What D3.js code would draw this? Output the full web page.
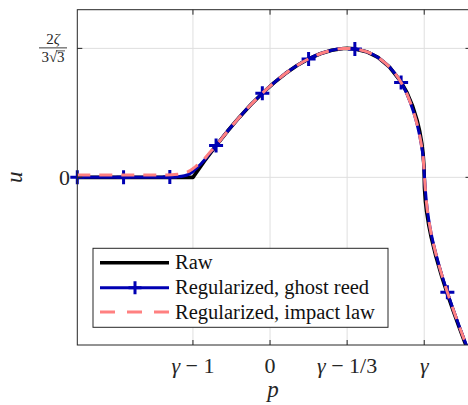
<!DOCTYPE html>
<html><head><meta charset="utf-8">
<script src="https://cdn.jsdelivr.net/npm/d3@7"></script>
<style>
html,body{margin:0;padding:0;background:#fff;}
svg{display:block;}
</style></head>
<body>
<svg id="chart" width="468" height="405" font-family="'Liberation Serif', Tinos, 'Noto Serif', 'DejaVu Serif', serif"></svg>
<script>
// ---- data (u normalised so that 2ζ/(3√3) = 1, γ = 2/3) ----
const rawP = [-0.8333,-0.3333,-0.2833,-0.2333,-0.1833,-0.1333,-0.0833,-0.0333,0.0167,0.0667,0.1167,0.1667,0.2167,0.2667,0.3167,0.3333,0.3667,0.4167,0.4667,0.5167,0.5667,0.5917,0.6167,0.6367,0.6467,0.6567,0.6617,0.6657,0.6667,0.6677,0.6717,0.6767,0.6867,0.6967,0.7167,0.7417,0.7667,0.7917,0.8167,0.8417,0.8667];
const rawU = [0,0,0.1266,0.2465,0.3593,0.4648,0.5625,0.6521,0.7331,0.8050,0.8671,0.9186,0.9585,0.9859,0.9991,1.0,0.9961,0.9743,0.9295,0.8553,0.7394,0.6582,0.5519,0.4365,0.3601,0.2572,0.1829,0.0821,0,-0.0822,-0.1847,-0.2624,-0.3747,-0.4635,-0.6100,-0.7649,-0.9038,-1.0333,-1.1572,-1.2770,-1.3943];

const regP = [-0.8333,-0.6,-0.45,-0.40,-0.37,-0.35,-0.3333,-0.315,-0.30,-0.2833,-0.2667,-0.2333,-0.1833,-0.1333,-0.0833,-0.0333,0.0167,0.0667,0.1167,0.1667,0.2167,0.2667,0.3167,0.3333,0.3667,0.4167,0.4667,0.5167,0.5667,0.5917,0.6167,0.6367,0.6467,0.6567,0.6617,0.6667,0.6717,0.6767,0.6867,0.6967,0.7167,0.7417,0.7667,0.7917,0.8167,0.8417,0.8667];
const ghostU = [0,0,0.001,0.004,0.012,0.025,0.045,0.076,0.102,0.134,0.172,0.2465,0.3593,0.4648,0.5625,0.6521,0.7331,0.8050,0.8671,0.9186,0.9585,0.9859,0.9991,1.0,0.9961,0.9743,0.9295,0.8553,0.735,0.648,0.527,0.405,0.325,0.225,0.16,0.03,-0.10,-0.20,-0.335,-0.435,-0.590,-0.750,-0.890,-1.022,-1.148,-1.268,-1.386];
const impactU = [0.018,0.018,0.019,0.024,0.034,0.048,0.068,0.094,0.116,0.145,0.180,0.2465,0.3593,0.4648,0.5625,0.6521,0.7331,0.8050,0.8671,0.9186,0.9585,0.9859,0.9991,1.0,0.9961,0.9743,0.9295,0.8553,0.735,0.648,0.527,0.405,0.325,0.225,0.16,0.03,-0.10,-0.20,-0.335,-0.435,-0.590,-0.750,-0.890,-1.022,-1.148,-1.268,-1.386];

const markerP = [-0.8333,-0.6333,-0.4333,-0.2333,-0.0333,0.1667,0.3667,0.5667,0.7667];
const markerU = [0,0,0.002,0.2465,0.6521,0.9186,0.9961,0.735,-0.890];

const xTickVals = [-1/3, 0, 1/3, 2/3];
const xTickLabels = [["γ"," − 1"],["","0"],["γ"," − 1/3"],["γ",""]];
const yTickVals = [0, 1];
const legendLabels = ["Raw","Regularized, ghost reed","Regularized, impact law"];

// ---- layout ----
const L = 77.3, R = 470.5, T = 9.7, B = 345;
const svg = d3.select("#chart");
const x = d3.scaleLinear().domain([-0.8333, 0.8667]).range([L, R]);
const y = d3.scaleLinear().domain([-1.3, 1.3]).range([B, T]);
const axisCol = "#262626";

// grid
const g = svg.append("g");
g.selectAll("line.gx").data(xTickVals).join("line")
  .attr("x1", d=>x(d)).attr("x2", d=>x(d)).attr("y1", T).attr("y2", B)
  .attr("stroke", "#dfdfdf").attr("stroke-width", 1);
g.selectAll("line.gy").data(yTickVals).join("line")
  .attr("y1", d=>y(d)).attr("y2", d=>y(d)).attr("x1", L).attr("x2", R)
  .attr("stroke", "#dfdfdf").attr("stroke-width", 1);

// clip
svg.append("clipPath").attr("id","clip").append("rect")
  .attr("x", L).attr("y", T).attr("width", R-L).attr("height", B-T);
const plot = svg.append("g").attr("clip-path","url(#clip)");

const lineLin = d3.line().x(d=>x(d[0])).y(d=>y(d[1]));
const lineSmooth = d3.line().x(d=>x(d[0])).y(d=>y(d[1])).curve(d3.curveMonotoneX);

const rawData = rawP.map((p,i)=>[p, rawU[i]]);
const ghostData = regP.map((p,i)=>[p, ghostU[i]]);
const impactData = regP.map((p,i)=>[p, impactU[i]]);
const markerData = markerP.map((p,i)=>[p, markerU[i]]);

plot.append("path").attr("d", lineLin(rawData)).attr("fill","none")
  .attr("stroke","#000").attr("stroke-width",3.6).attr("stroke-linejoin","round");
plot.append("path").attr("d", lineSmooth(ghostData)).attr("fill","none")
  .attr("stroke","#0000b3").attr("stroke-width",3).attr("stroke-linejoin","round");
const plus = s => `M${-s},0H${s}M0,${-s}V${s}`;
// markers are not clipped (as in the original)
svg.append("g").selectAll("path").data(markerData).join("path")
  .attr("transform", d=>`translate(${x(d[0])},${y(d[1])})`)
  .attr("d", plus(7)).attr("stroke","#0000b3").attr("stroke-width",3).attr("fill","none");
svg.append("g").attr("clip-path","url(#clip)").append("path").attr("d", lineSmooth(impactData)).attr("fill","none")
  .attr("stroke","#ff8080").attr("stroke-width",3).attr("stroke-dasharray","13,9");

// axes box and ticks
const ax = svg.append("g").attr("stroke", axisCol).attr("stroke-width",1).attr("fill","none");
ax.append("rect").attr("x",L).attr("y",T).attr("width",R-L).attr("height",B-T);
xTickVals.forEach(v=>{
  ax.append("line").attr("x1",x(v)).attr("x2",x(v)).attr("y1",B).attr("y2",B-5);
  ax.append("line").attr("x1",x(v)).attr("x2",x(v)).attr("y1",T).attr("y2",T+5);
});
yTickVals.forEach(v=>{
  ax.append("line").attr("x1",L).attr("x2",L+5).attr("y1",y(v)).attr("y2",y(v));
  ax.append("line").attr("x1",R).attr("x2",R-5).attr("y1",y(v)).attr("y2",y(v));
});

// x tick labels
const xt = svg.append("g").attr("font-size",22).attr("fill","#262626").attr("text-anchor","middle");
xTickVals.forEach((v,i)=>{
  const t = xt.append("text").attr("x", x(v)).attr("y", 373);
  if (xTickLabels[i][0]) t.append("tspan").attr("font-style","italic").text(xTickLabels[i][0]);
  if (xTickLabels[i][1]) t.append("tspan").text(xTickLabels[i][1]);
});
// y tick labels
svg.append("text").attr("x",70).attr("y",y(0)+7.5).attr("text-anchor","end")
  .attr("font-size",22).attr("fill","#262626").text("0");
const fx = 53;
svg.append("text").attr("x",fx).attr("y",y(1)-4).attr("text-anchor","middle")
  .attr("font-size",15).attr("fill","#262626")
  .call(t=>{t.append("tspan").text("2"); t.append("tspan").attr("font-style","italic").text("ζ");});
svg.append("line").attr("x1",39).attr("x2",67).attr("y1",y(1)-0.5).attr("y2",y(1)-0.5)
  .attr("stroke","#262626").attr("stroke-width",0.9);
svg.append("text").attr("x",fx).attr("y",y(1)+14).attr("text-anchor","middle")
  .attr("font-size",15).attr("fill","#262626").text("3√3");
svg.append("line").attr("x1",fx+3).attr("x2",fx+12).attr("y1",y(1)+2.5).attr("y2",y(1)+2.5)
  .attr("stroke","#262626").attr("stroke-width",0.8);

// axis labels
svg.append("text").attr("x",273).attr("y",397).attr("text-anchor","middle")
  .attr("font-size",23).attr("font-style","italic").attr("fill","#262626").text("p");
svg.append("text").attr("transform",`translate(22,${y(0)}) rotate(-90)`).attr("text-anchor","middle")
  .attr("font-size",23).attr("font-style","italic").attr("fill","#262626").text("u");

// legend
const lg = svg.append("g");
lg.append("rect").attr("x",93).attr("y",248.3).attr("width",295).attr("height",79)
  .attr("fill","#fff").attr("stroke","#262626").attr("stroke-width",1);
const rowsY = [262.7, 287.7, 312];
const styles = [
  {c:"#000", w:3.6, dash:null, mk:false},
  {c:"#0000b3", w:3, dash:null, mk:true},
  {c:"#ff8080", w:3, dash:"15,12", mk:false}
];
legendLabels.forEach((lab,i)=>{
  const s = styles[i];
  lg.append("line").attr("x1",100).attr("x2",169).attr("y1",rowsY[i]).attr("y2",rowsY[i])
    .attr("stroke",s.c).attr("stroke-width",s.w).attr("stroke-dasharray",s.dash);
  if (s.mk) lg.append("path").attr("transform",`translate(135,${rowsY[i]})`).attr("d",plus(6.5))
    .attr("stroke",s.c).attr("stroke-width",3);
  lg.append("text").attr("x",175).attr("y",rowsY[i]+6.5).attr("font-size",20.5)
    .attr("fill","#111").text(lab);
});
</script>
</body></html>
